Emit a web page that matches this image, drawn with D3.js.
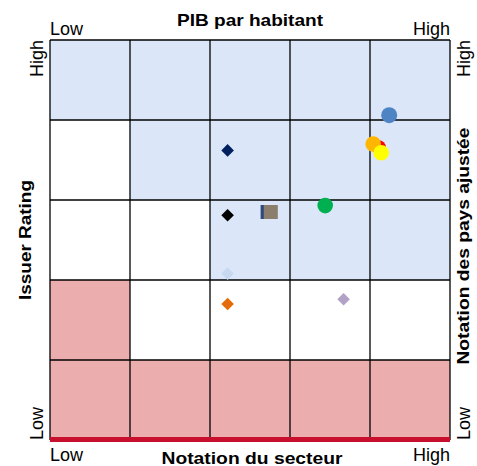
<!DOCTYPE html>
<html>
<head>
<meta charset="utf-8">
<script src="https://cdn.jsdelivr.net/npm/d3@7"></script>
<style>
html,body{margin:0;padding:0;background:#fff;}
svg{display:block;}
text{font-family:"Liberation Sans",Arial,sans-serif;fill:#000;}
</style>
</head>
<body>
<svg id="chart" width="477" height="466"></svg>
<script>
// ---- data ----
const xTitle = "PIB par habitant";
const xTitleBottom = "Notation du secteur";
const yTitleLeft = "Issuer Rating";
const yTitleRight = "Notation des pays ajustée";
const levelLabels = ["Low", "High"];
// zones per row from top (row 0) to bottom (row 4): b = favourable, w = neutral, r = unfavourable
const rowZones = [
  ["b", "b", "b", "b", "b"],
  ["w", "b", "b", "b", "b"],
  ["w", "w", "b", "b", "b"],
  ["r", "w", "w", "w", "w"],
  ["r", "r", "r", "r", "r"]
];
const pointNames  = ["A", "B", "C", "D", "E", "F", "G1", "G2", "H", "I", "J", "K"];
const pointShapes = ["circle", "circle", "circle", "circle", "diamond", "diamond", "square", "square", "circle", "diamond", "diamond", "diamond"];
const pointX = [4.24, 4.04, 4.11, 4.14, 2.22, 2.22, 2.72, 2.76, 3.44, 2.22, 2.22, 3.67];
const pointY = [4.06, 3.70, 3.66, 3.59, 3.62, 2.81, 2.85, 2.85, 2.93, 2.08, 1.70, 1.76];

// ---- styles ----
const zoneColor = {b: "#dbe6f9", w: "#ffffff", r: "#ebadad"};
const pointColor = {
  A: "#4f84c4", B: "#ffb600", C: "#ff0000", D: "#ffff00",
  E: "#002060", F: "#000000", G1: "#2f4a7c", G2: "#8b7e6c",
  H: "#00b050", I: "#c6d9f1", J: "#e46c0a", K: "#b3a2c7"
};
const drawOrder = ["A", "C", "B", "D", "E", "F", "G1", "G2", "H", "I", "J", "K"];

const svg = d3.select("#chart");
const mLeft = 50, mRight = 450, mTop = 40, mBottom = 440;
const x = d3.scaleLinear().domain([0, 5]).range([mLeft, mRight]);
const y = d3.scaleLinear().domain([0, 5]).range([mBottom, mTop]);

// background cells
rowZones.forEach((row, ri) => {
  svg.selectAll(null).data(row).enter().append("rect")
    .attr("x", (d, ci) => x(ci))
    .attr("y", y(5 - ri))
    .attr("width", x(1) - x(0))
    .attr("height", y(0) - y(1))
    .attr("fill", d => zoneColor[d]);
});

// grid lines
const ticks = d3.range(0, 6);
svg.selectAll(".vl").data(ticks).enter().append("line")
  .attr("x1", d => x(d)).attr("x2", d => x(d))
  .attr("y1", y(5)).attr("y2", y(0))
  .attr("stroke", "#000").attr("stroke-width", 1.3);
svg.selectAll(".hl").data(ticks).enter().append("line")
  .attr("x1", x(0)).attr("x2", x(5))
  .attr("y1", d => y(d)).attr("y2", d => y(d))
  .attr("stroke", "#000").attr("stroke-width", 1.3);

// bottom red rule
svg.append("rect")
  .attr("x", x(0)).attr("y", y(0) - 3)
  .attr("width", x(5) - x(0)).attr("height", 5)
  .attr("fill", "#c8102e");

// points
const idx = drawOrder.map(n => pointNames.indexOf(n));
const radius = {A: 8, B: 7.8, C: 7, D: 7.8, H: 7.8};
idx.forEach(i => {
  const n = pointNames[i], s = pointShapes[i];
  const cx = x(pointX[i]), cy = y(pointY[i]);
  if (s === "circle") {
    svg.append("circle").attr("cx", cx).attr("cy", cy)
      .attr("r", radius[n]).attr("fill", pointColor[n]);
  } else if (s === "diamond") {
    const h = 6.3;
    svg.append("path")
      .attr("d", `M${cx},${cy - h}L${cx + h},${cy}L${cx},${cy + h}L${cx - h},${cy}Z`)
      .attr("fill", pointColor[n]);
  } else {
    const h = 7;
    svg.append("rect").attr("x", cx - h).attr("y", cy - h)
      .attr("width", 2 * h).attr("height", 2 * h).attr("fill", pointColor[n]);
  }
});

// labels
svg.append("text").attr("x", 250).attr("y", 26).attr("text-anchor", "middle")
  .attr("textLength", 146).attr("lengthAdjust", "spacingAndGlyphs")
  .style("font-weight", "bold").style("font-size", "17px").text(xTitle);
svg.append("text").attr("x", 252).attr("y", 464).attr("text-anchor", "middle")
  .attr("textLength", 181).attr("lengthAdjust", "spacingAndGlyphs")
  .style("font-weight", "bold").style("font-size", "17px").text(xTitleBottom);

svg.append("text").attr("x", x(0)).attr("y", 35).style("font-size", "18px").text(levelLabels[0]);
svg.append("text").attr("x", x(5)).attr("y", 35).attr("text-anchor", "end").style("font-size", "18px").text(levelLabels[1]);
svg.append("text").attr("x", x(0)).attr("y", 461).style("font-size", "18px").text(levelLabels[0]);
svg.append("text").attr("x", x(5)).attr("y", 461).attr("text-anchor", "end").style("font-size", "18px").text(levelLabels[1]);

function vtext(tx, ty, anchor, size, bold, str, len) {
  const t = svg.append("text").attr("transform", `translate(${tx},${ty}) rotate(-90)`)
    .attr("text-anchor", anchor).style("font-size", size)
    .style("font-weight", bold ? "bold" : "normal").text(str);
  if (len) t.attr("textLength", len).attr("lengthAdjust", "spacingAndGlyphs");
}
vtext(43, y(5), "end", "18px", false, levelLabels[1]);
vtext(43, y(0), "start", "18px", false, levelLabels[0]);
vtext(470, y(5), "end", "18px", false, levelLabels[1]);
vtext(470, y(0), "start", "18px", false, levelLabels[0]);
vtext(31, 240, "middle", "17px", true, yTitleLeft, 120);
vtext(469, 246, "middle", "17px", true, yTitleRight, 237);
</script>
</body>
</html>
